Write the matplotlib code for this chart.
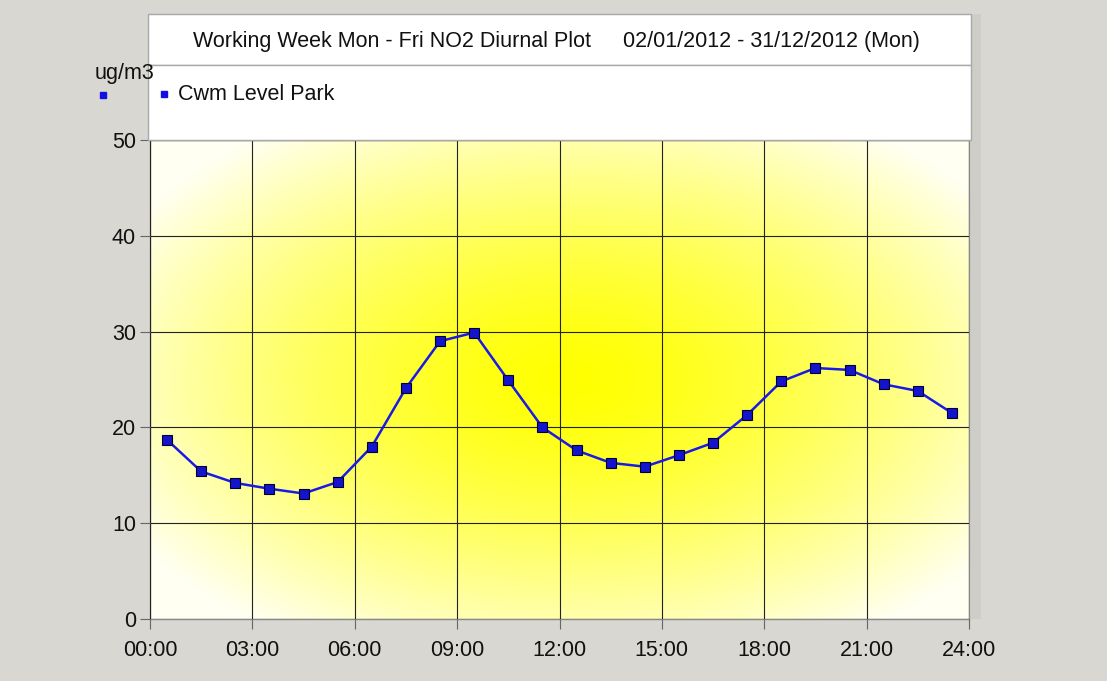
import numpy as np
import matplotlib
matplotlib.use("Agg")
import matplotlib.pyplot as plt
from matplotlib.patches import Rectangle
from matplotlib.lines import Line2D

hours = [0.5, 1.5, 2.5, 3.5, 4.5, 5.5, 6.5, 7.5, 8.5, 9.5, 10.5, 11.5,
         12.5, 13.5, 14.5, 15.5, 16.5, 17.5, 18.5, 19.5, 20.5, 21.5, 22.5, 23.5]
no2 = [18.7, 15.4, 14.2, 13.6, 13.1, 14.3, 18.0, 24.1, 29.0, 29.9, 24.9, 20.0,
       17.6, 16.3, 15.9, 17.1, 18.4, 21.3, 24.8, 26.2, 26.0, 24.5, 23.8, 21.5]
xticks = [0, 3, 6, 9, 12, 15, 18, 21, 24]
xticklabels = ["00:00", "03:00", "06:00", "09:00", "12:00", "15:00", "18:00", "21:00", "24:00"]
yticks = [0, 10, 20, 30, 40, 50]
title_left = "Working Week Mon - Fri NO2 Diurnal Plot"
title_right = "02/01/2012 - 31/12/2012 (Mon)"
series_name = "Cwm Level Park"
unit = "ug/m3"

plt.rcParams['font.family'] = ['Liberation Sans', 'DejaVu Sans']

W, H = 1107, 681
fig = plt.figure(figsize=(W / 100, H / 100), dpi=100)
fig.patch.set_facecolor('#d9d7d2')

def fx(px):
    return px / W

def fy(py):
    return 1 - py / H

# shadow at right
fig.add_artist(Rectangle((fx(971), fy(619)), fx(10), fy(14) - fy(619),
                         transform=fig.transFigure, facecolor='#cfcdc8',
                         edgecolor='none'))
# white panel: title box and legend box
fig.add_artist(Rectangle((fx(148), fy(65)), fx(971) - fx(148), fy(14) - fy(65),
                         transform=fig.transFigure, facecolor='white',
                         edgecolor='#a8a8a8', lw=1.0))
fig.add_artist(Rectangle((fx(148), fy(140)), fx(971) - fx(148), fy(65) - fy(140),
                         transform=fig.transFigure, facecolor='white',
                         edgecolor='#a8a8a8', lw=1.0))

fig.text(fx(193), fy(41), title_left, ha='left', va='center', fontsize=15.5, color='#111111')
fig.text(fx(623), fy(41), title_right, ha='left', va='center', fontsize=15.5, color='#111111')
fig.add_artist(Line2D([fx(164)], [fy(94)], marker='s', markersize=5, color='#1010e0',
                      transform=fig.transFigure))
fig.text(fx(178), fy(94), series_name, ha='left', va='center', fontsize=15.5, color='#111111')
fig.text(fx(124), fy(73), unit, ha='center', va='center', fontsize=15.5, color='#111111')
fig.add_artist(Line2D([fx(103)], [fy(95)], marker='s', markersize=5, color='#1010e0',
                      transform=fig.transFigure))

ax = fig.add_axes([fx(150), fy(619), fx(969) - fx(150), fy(140) - fy(619)])
ax.set_xlim(0, 24)
ax.set_ylim(0, 50)

# radial yellow gradient background
nx, ny = 400, 300
gx = np.linspace(0, 24, nx)
gy = np.linspace(0, 50, ny)
GX, GY = np.meshgrid(gx, gy)
t = np.sqrt(((GX - 12.3) / 15.0) ** 2 + ((GY - 25) / 32.0) ** 2)
t = np.clip(t, 0, 1)
b = np.clip(t ** 1.4, 0, 1)
img = np.zeros((ny, nx, 3))
img[..., 0] = 1.0
img[..., 1] = 1.0
img[..., 2] = b * 0.95
ax.imshow(img, extent=[0, 24, 0, 50], origin='lower', aspect='auto', zorder=0,
          interpolation='bilinear')

ax.set_xticks(xticks)
ax.set_xticklabels(xticklabels)
ax.set_yticks(yticks)
ax.grid(True, color='#222222', lw=0.8, zorder=1)
ax.set_axisbelow(False)
for s in ax.spines.values():
    s.set_color('#888888')
    s.set_linewidth(1.0)
ax.tick_params(axis='both', length=7, width=0.8, color='#666666', labelsize=15.5,
               labelcolor='#111111')
ax.tick_params(axis='x', pad=8)
ax.tick_params(axis='y', pad=3)

ax.plot(hours, no2, color='#1a1ae6', lw=1.8, marker='s', markersize=6.5,
        markerfacecolor='#1414cc', markeredgecolor='#000033', markeredgewidth=0.8,
        zorder=3)

fig.savefig('out.png', dpi=100, facecolor=fig.get_facecolor())
